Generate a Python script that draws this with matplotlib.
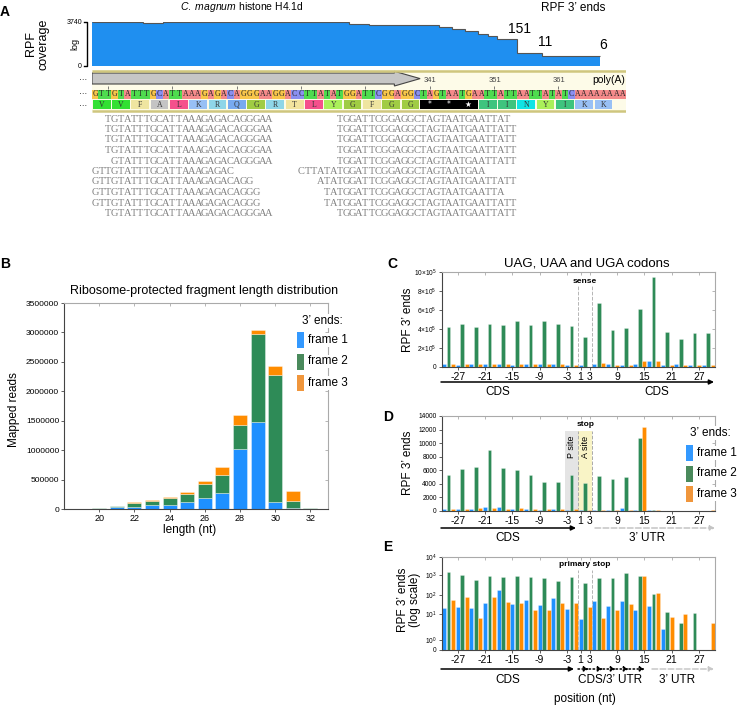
import numpy as np
import matplotlib
matplotlib.use("Agg")
import matplotlib.pyplot as plt
from matplotlib.patches import Rectangle, Polygon

# ── Configuration ─────────────────────────────────────────────────────────────
W, H = 738, 706
BLUE, GREEN, ORANGE = "#1e90ff", "#2e8b57", "#ff8c00"
FRAME_COLORS = [BLUE, GREEN, ORANGE]
LEGEND_COLORS = ["#3399ff", "#4a8a5c", "#f0963c"]
COV_BLUE = "#1f8ff0"
SEQ_FONT = "Liberation Serif"

plt.rcParams["font.family"] = ["Liberation Sans", "DejaVu Sans"]
plt.rcParams["mathtext.fontset"] = "custom"
plt.rcParams["mathtext.rm"] = "Liberation Sans"
plt.rcParams["mathtext.it"] = "Liberation Sans:italic"
plt.rcParams["mathtext.bf"] = "Liberation Sans:bold"

# ── Data ──────────────────────────────────────────────────────────────────────
seq = "GTTGTATTTGCATTAAAGAGACAGGGAAGGACCTTATATGGATTCGGAGGCTAGTAATGAATTATTAATTATATCAAAAAAAA"
aa = "VVFALKRQGRTLYGFGG***IINYIKK"
seq_first_coord = 289
coord_ticks = [291, 301, 311, 321, 331, 341, 351, 361]
coord_labels = [341, 351, 361]
cds_end = 51

cov_edges = [0, 8, 11, 40, 43, 52, 54, 56, 58, 60, 61.5, 63, 66, 70, 79]
cov_reads = [3500, 2900, 3740, 2600, 2250, 2000, 1550, 1050, 650, 420, 250, 151, 11, 6]

reads_left = [
    "TGTATTTGCATTAAAGAGACAGGGAA",
    "TGTATTTGCATTAAAGAGACAGGGAA",
    "TGTATTTGCATTAAAGAGACAGGGAA",
    "TGTATTTGCATTAAAGAGACAGGGAA",
    "GTATTTGCATTAAAGAGACAGGGAA",
    "GTTGTATTTGCATTAAAGAGAC",
    "GTTGTATTTGCATTAAAGAGACAGG",
    "GTTGTATTTGCATTAAAGAGACAGGG",
    "GTTGTATTTGCATTAAAGAGACAGGG",
    "TGTATTTGCATTAAAGAGACAGGGAA",
]
reads_right = [
    "TGGATTCGGAGGCTAGTAATGAATTAT",
    "TGGATTCGGAGGCTAGTAATGAATTATT",
    "TGGATTCGGAGGCTAGTAATGAATTATT",
    "TGGATTCGGAGGCTAGTAATGAATTATT",
    "TGGATTCGGAGGCTAGTAATGAATTATT",
    "CTTATATGGATTCGGAGGCTAGTAATGAA",
    "ATATGGATTCGGAGGCTAGTAATGAATTATT",
    "TATGGATTCGGAGGCTAGTAATGAATTA",
    "TATGGATTCGGAGGCTAGTAATGAATTATT",
    "TGGATTCGGAGGCTAGTAATGAATTATT",
]

nt_colors = {"A": "#f58a8a", "C": "#8a8ff0", "G": "#f8c64a", "T": "#4fdc4f"}
aa_colors = {"V": "#33e033", "F": "#efe5a0", "A": "#c4c4c4", "L": "#f5508c",
             "K": "#98c0f5", "R": "#8fd6e8", "Q": "#78aaf0", "G": "#a0cc44",
             "T": "#f2e49e", "Y": "#aaf05a", "*": "#000000", "I": "#3ec47e",
             "N": "#10e4e4"}

lengths = np.arange(19, 33)
len_frame1 = [1000, 3000, 30000, 40000, 62000, 73000, 124000, 192000, 276000, 1015000, 1480000, 124000, 22000, 3000]
len_frame2 = [2000, 15000, 20000, 56000, 79000, 107000, 130000, 237000, 305000, 406000, 1490000, 2160000, 114000, 6000]
len_frame3 = [2000, 4000, 6000, 17000, 17000, 23000, 34000, 39000, 129000, 169000, 70000, 140000, 170000, 6000]

positions = np.r_[-30:0, 1:31]
tick_positions = [-27, -21, -15, -9, -3, 1, 3, 9, 15, 21, 27]

c_reads = [25000, 417000, 28000, 22000, 452000, 25000, 25000, 417000, 25000, 28000,
           452000, 28000, 25000, 442000, 28000, 18000, 484000, 28000, 25000, 442000,
           28000, 25000, 481000, 25000, 25000, 449000, 30000, 20000, 435000, 20000,
           18000, 311000, 0, 32000, 678000, 38000, 25000, 392000, 22000, 22000,
           410000, 20000, 30000, 611000, 60000, 62000, 954000, 60000, 20000, 364000,
           18000, 25000, 297000, 18000, 22000, 360000, 18000, 20000, 360000, 20000]

d_reads = [200, 5300, 250, 300, 6200, 300, 300, 6400, 400, 500,
           8900, 450, 500, 6350, 300, 300, 6000, 350, 250, 5300,
           250, 150, 4300, 200, 300, 4250, 250, 150, 5250, 300,
           150, 4150, 60, 150, 5100, 60, 150, 4750, 120, 350,
           4950, 150, 120, 10800, 12400, 120, 150, 120, 20, 15,
           10, 0, 5, 12, 0, 12, 0, 0, 0, 60]

e_reads = [20, 1400, 55, 22, 1000, 76, 21, 560, 6.8, 37,
           930, 76, 178, 765, 41, 32, 930, 37, 55, 765,
           16, 30, 680, 16, 67, 520, 37, 18, 830, 37,
           6.3, 385, 24, 50, 680, 6.8, 26, 735, 16, 48,
           1230, 32, 16, 930, 930, 27, 112, 120, 2.6, 13,
           7.4, 0, 4.7, 10, 0, 11, 0, 0, 0, 4.7]

# pixel height of each decade on the panel E axis (0, 10^0 ... 10^4)
E_KNOT_LOG = [-3, 0, 1, 2, 3, 4]
E_KNOT_POS = [0, 10, 36, 55, 75, 93]


# ── Helpers ───────────────────────────────────────────────────────────────────
fig = plt.figure(figsize=(W / 100, H / 100), dpi=100)


def px_axes(x0, y0, x1, y1):
    return fig.add_axes([x0 / W, 1 - y1 / H, (x1 - x0) / W, (y1 - y0) / H])


def pos_x(p):
    p = np.asarray(p)
    return np.where(p < 0, p, p - 1)


def style_axes(ax, right_ticks=True):
    for s in ["left", "bottom"]:
        ax.spines[s].set_color("#444444")
        ax.spines[s].set_linewidth(0.8)
    for s in ["top", "right"]:
        ax.spines[s].set_color("#aaaaaa")
        ax.spines[s].set_linewidth(0.8)
    ax.tick_params(direction="out", length=2.5, width=0.6, color="#444444", pad=1)
    top = ax.secondary_xaxis("top")
    top.set_xticks(ax.get_xticks())
    top.tick_params(direction="in", length=2, width=0.5, color="#999999", labeltop=False)
    top.spines["top"].set_visible(False)
    if right_ticks:
        right = ax.secondary_yaxis("right")
        right.set_yticks(ax.get_yticks())
        right.tick_params(direction="in", length=2, width=0.5, color="#999999", labelright=False)
        right.spines["right"].set_visible(False)


def e_forward(v):
    v = np.asarray(v, dtype=float)
    return np.interp(np.log10(np.clip(v, 1e-3, None)), E_KNOT_LOG, E_KNOT_POS)


def e_inverse(y):
    return 10 ** np.interp(y, E_KNOT_POS, E_KNOT_LOG)


def codon_axes(box, values):
    ax = px_axes(*box)
    x = pos_x(positions)
    colors = [FRAME_COLORS[i % 3] for i in range(len(positions))]
    ax.bar(x, values, width=0.85, color=colors, edgecolor=(1, 1, 1, 0.45), linewidth=0.4)
    ax.set_xlim(-30.5, 29.5)
    ax.set_xticks(pos_x(tick_positions))
    ax.set_xticklabels([str(t) for t in tick_positions], fontsize=7.5)
    return ax


# ── Panel A: coverage ─────────────────────────────────────────────────────────
N = len(seq)
axA = px_axes(92, 22, 626, 66)
axA.set_yscale("function", functions=(lambda v: np.log10(1 + np.clip(v, 0, None)),
                                      lambda y: 10 ** y - 1))
axA.stairs(cov_reads, cov_edges, fill=True, color=COV_BLUE, lw=0)
axA.stairs(cov_reads, cov_edges, baseline=None, color="#555555", lw=0.8)
axA.set_xlim(0, N)
axA.set_ylim(0, 3740)
axA.axis("off")
for k in range(len(cov_reads) - 3, len(cov_reads)):
    axA.annotate(str(cov_reads[k]), (cov_edges[k + 1] + 0.4, cov_reads[k]), xytext=(0, 2.5),
                 textcoords="offset points", ha="center", va="bottom", fontsize=10)

# ── Panel A: sequence track and reads ─────────────────────────────────────────
axS = px_axes(92, 68, 626, 225)
axS.set_xlim(0, N)
axS.set_ylim(225, 68)
axS.axis("off")
axS.add_patch(Rectangle((0, 70), N, 41, fc="#fdfbe8", ec="none"))
axS.hlines([70.8, 110.8], 0, N, color="#cfc67e", lw=1.8)
head = 4
axS.add_patch(Polygon([(0, 73), (cds_end - head, 73), (cds_end - head, 71.3), (cds_end, 78.6),
                       (cds_end - head, 86), (cds_end - head, 84), (0, 84)],
                      closed=True, fc="#c6c6c6", ec="#444444", lw=0.8))
for c in coord_ticks:
    xt = c - seq_first_coord + 0.5
    axS.vlines(xt, 85.5, 88.5, color="#666666", lw=0.6)
    if c in coord_labels:
        axS.text(xt - 0.9, 80.5, str(c), ha="left", va="center", fontsize=5.5, color="#444444")
axS.text(N - 0.2, 80, "poly(A)", ha="right", va="center", fontsize=7.5)

for i, base in enumerate(seq):
    axS.add_patch(Rectangle((i, 90), 1, 8.5, fc=nt_colors[base], ec="none"))
    axS.text(i + 0.5, 94.4, base, ha="center", va="center", fontsize=5.6, family=SEQ_FONT,
             color="#222222")

stop_count = 0
for j, res in enumerate(aa):
    if res == "*":
        axS.add_patch(Rectangle((3 * j, 100), 3, 9, fc="black", ec="none"))
        stop_count += 1
        sym = "\u2605" if stop_count == 3 else "*"
        axS.text(3 * j + 1.5, 104.6, sym, ha="center", va="center", fontsize=5.5,
                 color="white", family="DejaVu Sans")
    else:
        axS.add_patch(Rectangle((3 * j + 0.12, 100), 2.76, 9, fc=aa_colors[res], ec="none"))
        axS.text(3 * j + 1.5, 104.6, res, ha="center", va="center", fontsize=5.6,
                 family=SEQ_FONT, color="#333333")

for k, (left, right) in enumerate(zip(reads_left, reads_right)):
    y = 119 + 10.5 * k
    for read in (left, right):
        start = seq.find(read)
        for i, base in enumerate(read):
            axS.text(start + i + 0.5, y, base, ha="center", va="center", fontsize=7.5,
                     family=SEQ_FONT, color="#808080")

# ── Panel B: fragment lengths ─────────────────────────────────────────────────
axB = px_axes(64, 303, 328, 509)
bar_kw = dict(width=0.8, edgecolor=(1, 1, 1, 0.5), linewidth=0.5)
axB.bar(lengths, len_frame1, color=BLUE, **bar_kw)
axB.bar(lengths, len_frame2, bottom=len_frame1, color=GREEN, **bar_kw)
axB.bar(lengths, len_frame3, bottom=np.add(len_frame1, len_frame2), color=ORANGE, **bar_kw)
axB.set_xlim(18, 33)
axB.set_ylim(0, 3500000)
axB.set_xticks(np.arange(20, 33, 2))
axB.set_yticks(np.arange(0, 3500001, 500000))
axB.set_yticklabels([f"{v:d}" for v in np.arange(0, 3500001, 500000)], fontsize=6)
axB.tick_params(axis="x", labelsize=6.5)
style_axes(axB)

# ── Panel C: stop codons as sense ─────────────────────────────────────────────
axC = codon_axes((441.7, 272.3, 715, 366.7), c_reads)
axC.set_ylim(0, 1000000)
axC.set_yticks(np.arange(0, 1000001, 200000))
axC.set_yticklabels(["0"] + [rf"${v}{{\times}}10^5$" for v in (2, 4, 6, 8, 10)], fontsize=4.8)
axC.vlines([-0.5, 2.5], 0, 850000, colors="#b5b5b5", linestyles="--", lw=0.7)
axC.text(1, 900000, "sense", ha="center", va="center", fontsize=6, fontweight="bold")
style_axes(axC)

# ── Panel D: stop codon ───────────────────────────────────────────────────────
axD = codon_axes((441.7, 416, 715, 510.7), d_reads)
axD.set_ylim(0, 14000)
axD.set_yticks(np.arange(0, 14001, 2000))
axD.set_yticklabels([str(v) for v in np.arange(0, 14001, 2000)], fontsize=4.8)
axD.add_patch(Rectangle((-3.5, 0), 3, 11800, fc="#e4e4e4", ec="none", zorder=0))
axD.add_patch(Rectangle((-0.5, 0), 3, 11800, fc="#f9f4c6", ec="none", zorder=0))
axD.vlines([-0.5, 2.5], 0, 11800, colors="#aaaaaa", linestyles="--", lw=0.7, zorder=0.5)
axD.text(-2, 9400, "P site", rotation=90, ha="center", va="center", fontsize=6.5)
axD.text(1, 9400, "A site", rotation=90, ha="center", va="center", fontsize=6.5)
axD.text(1.2, 12700, "stop", ha="center", va="center", fontsize=6, fontweight="bold")
style_axes(axD)

# ── Panel E: primary stop (log scale) ─────────────────────────────────────────
axE = codon_axes((441.7, 557, 715, 650), e_reads)
axE.set_yscale("function", functions=(e_forward, e_inverse))
axE.set_ylim(0, 10000)
axE.set_yticks([0, 1, 10, 100, 1000, 10000])
axE.set_yticklabels(["0", "$10^0$", "$10^1$", "$10^2$", "$10^3$", "$10^4$"], fontsize=4.8)
axE.yaxis.set_minor_locator(matplotlib.ticker.NullLocator())
axE.vlines([-0.5, 2.5], 0, 1900, colors="#b5b5b5", linestyles="--", lw=0.7)
axE.text(1, 3600, "primary stop", ha="center", va="center", fontsize=6, fontweight="bold")
style_axes(axE, right_ticks=False)

# ── Overlay: labels, legends, region arrows ───────────────────────────────────
ov = fig.add_axes([0, 0, 1, 1])
ov.set_xlim(0, W)
ov.set_ylim(H, 0)
ov.axis("off")

for lab, (x, y) in {"A": (5, 12), "B": (5, 264), "C": (392, 264), "D": (388, 417), "E": (388, 547)}.items():
    ov.text(x, y, lab, ha="center", va="center", fontsize=10, fontweight="bold")

ov.text(242, 7, r"$\mathit{C.\ magnum}$ histone H4.1d", ha="center", va="center", fontsize=7.5)
ov.text(573, 8, "RPF 3\u2019 ends", ha="center", va="center", fontsize=8.5)
ov.text(37, 44, "RPF\ncoverage", rotation=90, ha="center", va="center", fontsize=9,
        linespacing=1.0)
ov.text(75, 44, "log", rotation=90, ha="center", va="center", fontsize=6.5)
ov.plot([84, 87, 87, 84], [22, 22, 66, 66], color="black", lw=1)
ov.text(82, 22, "3740", ha="right", va="center", fontsize=5)
ov.text(82, 66, "0", ha="right", va="center", fontsize=5)
for y in (78, 93, 104):
    ov.text(83, y, "\u2026", ha="center", va="center", fontsize=6)

ov.text(204, 291, "Ribosome-protected fragment length distribution", ha="center",
        va="center", fontsize=9)
ov.text(14, 410, "Mapped reads", rotation=90, ha="center", va="center", fontsize=8.5)
ov.text(190, 530, "length (nt)", ha="center", va="center", fontsize=8.5)

ov.text(587, 263, "UAG, UAA and UGA codons", ha="center", va="center", fontsize=9.5)
ov.text(408, 320, "RPF 3\u2019 ends", rotation=90, ha="center", va="center", fontsize=8.5)
ov.text(408, 463, "RPF 3\u2019 ends", rotation=90, ha="center", va="center", fontsize=8.5)
ov.text(409, 600, "RPF 3\u2019 ends\n(log scale)", rotation=90, ha="center", va="center",
        fontsize=8.5, linespacing=1.0)


def region_arrow(x0, x1, y, color="black", ls="-"):
    ov.annotate("", xy=(x1, y), xytext=(x0, y),
                arrowprops=dict(arrowstyle="-|>", color=color, lw=1.1, ls=ls,
                                mutation_scale=7, shrinkA=0, shrinkB=0))


region_arrow(441, 714, 382)
ov.text(498, 392, "CDS", ha="center", va="center", fontsize=8.5)
ov.text(657, 392, "CDS", ha="center", va="center", fontsize=8.5)

region_arrow(441, 576, 528)
region_arrow(595, 715, 528, color="#c4c4c4", ls="--")
ov.text(508, 538, "CDS", ha="center", va="center", fontsize=8.5)
ov.text(647, 538, "3\u2019 UTR", ha="center", va="center", fontsize=8.5)

region_arrow(441, 574, 669)
for x0, x1 in [(578, 589), (589, 603), (603, 616), (616, 629), (629, 645)]:
    region_arrow(x0, x1, 669, ls=":")
region_arrow(652, 714, 669, color="#c8c8c8", ls="--")
ov.text(508, 680, "CDS", ha="center", va="center", fontsize=8.5)
ov.text(610, 680, "CDS/3\u2019 UTR", ha="center", va="center", fontsize=8.5)
ov.text(677, 680, "3\u2019 UTR", ha="center", va="center", fontsize=8.5)
ov.text(585, 699, "position (nt)", ha="center", va="center", fontsize=8.5)


def frame_legend(x, title_x, title_y, y0, dy):
    ov.text(title_x, title_y, "3\u2019 ends:", ha="center", va="center", fontsize=8.5,
            bbox=dict(fc="white", ec="none", pad=0.5))
    for k, (c, name) in enumerate(zip(LEGEND_COLORS, ["frame 1", "frame 2", "frame 3"])):
        ov.add_patch(Rectangle((x, y0 + k * dy - 8), 7, 16, fc=c, ec="none"))
        ov.text(x + 11, y0 + k * dy, name, ha="left", va="center", fontsize=8.5,
                bbox=dict(fc="white", ec="none", pad=0.5))


frame_legend(297, 322, 321, 340, 21.5)
frame_legend(686, 710, 433, 453, 20.5)

fig.savefig("out.png", dpi=100)
